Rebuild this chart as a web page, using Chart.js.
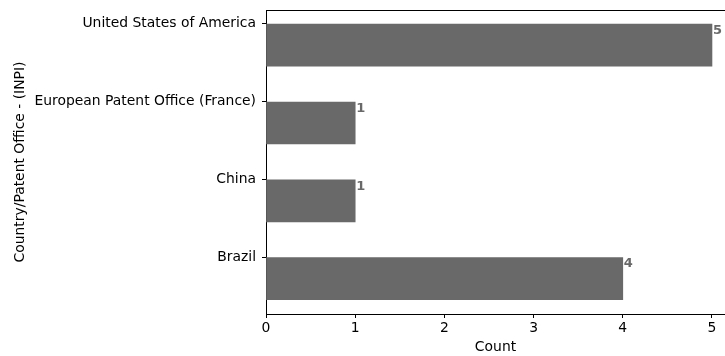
<!DOCTYPE html>
<html>
<head>
<meta charset="utf-8">
<script src="https://cdn.jsdelivr.net/npm/chart.js@4"></script>
<style>
  html, body { margin: 0; padding: 0; background: #ffffff; }
  canvas { display: block; }
</style>
</head>
<body>
<canvas id="chart" width="725" height="356"></canvas>
<script>
// Patent filings per country / patent office
const categories = ['United States of America', 'European Patent Office (France)', 'China', 'Brazil'];
const counts = [5, 1, 1, 4];
const countTicks = [0, 1, 2, 3, 4, 5];
const xTitle = 'Count';
const yTitle = 'Country/Patent Office - (INPI)';

const FONT = 'DejaVu Sans';
const TEXT_SIZE = 13.9;
const BAR_COLOR = '#696969';
const n = categories.length;
const rowOf = i => n - 1 - i;          // first category sits on the top row

// Row range of the labelled axis; bars hang just below their row tick
const rowMin = -0.727, rowMax = 3.178, barDrop = 0.273;

// Top frame line of the plot area
const topSpine = {
  id: 'topSpine',
  afterDraw(chart) {
    const { ctx, chartArea: a } = chart;
    ctx.save();
    ctx.fillStyle = '#000';
    ctx.fillRect(a.left, Math.round(a.top), a.right - a.left, 1);
    ctx.restore();
  }
};

// Bold value labels at the end of each bar
const valueLabels = {
  id: 'valueLabels',
  afterDatasetsDraw(chart) {
    const { ctx } = chart;
    const meta = chart.getDatasetMeta(0);
    ctx.save();
    ctx.font = 'bold 13px "' + FONT + '"';
    ctx.fillStyle = BAR_COLOR;
    ctx.textAlign = 'left';
    ctx.textBaseline = 'alphabetic';
    meta.data.forEach((bar, i) => {
      const top = bar.y - bar.height / 2;
      ctx.fillText(String(counts[i]), bar.x + 1, top + 9.8);
    });
    ctx.restore();
  }
};

new Chart(document.getElementById('chart'), {
  type: 'bar',
  data: {
    datasets: [{
      data: counts.map((v, i) => ({ x: v, y: rowOf(i) })),
      backgroundColor: BAR_COLOR,
      borderWidth: 0,
      barThickness: 42,
      xAxisID: 'x',
      yAxisID: 'y'
    }]
  },
  options: {
    indexAxis: 'y',
    responsive: false,
    animation: false,
    devicePixelRatio: 1,
    layout: { padding: { top: 10, right: 0, bottom: 0, left: 0 } },
    plugins: { legend: { display: false }, tooltip: { enabled: false } },
    scales: {
      x: {
        type: 'linear',
        position: 'bottom',
        min: 0,
        max: 5.146,
        afterBuildTicks: s => { s.ticks = countTicks.map(v => ({ value: v })); },
        afterFit: s => { s.height = 42; s.paddingLeft = 0; s.paddingRight = 0; },
        grid: { drawOnChartArea: false, drawTicks: true, tickLength: 4, tickColor: '#000', tickWidth: 1 },
        border: { display: true, color: '#000', width: 1 },
        ticks: { color: '#000', font: { family: FONT, size: TEXT_SIZE }, padding: 2, maxRotation: 0 },
        title: { display: true, text: xTitle, color: '#000', font: { family: FONT, size: TEXT_SIZE }, padding: { top: 0, bottom: 0 } }
      },
      y: {
        type: 'linear',
        display: false,
        offset: false,
        grid: { offset: false },
        min: rowMin + barDrop,
        max: rowMax + barDrop
      },
      yl: {
        type: 'linear',
        position: 'left',
        offset: false,
        min: rowMin,
        max: rowMax,
        afterBuildTicks: s => { s.ticks = categories.map((c, i) => ({ value: rowOf(i) })); },
        afterFit: s => { s.width = 266; s.paddingTop = 0; s.paddingBottom = 0; },
        grid: { offset: false, drawOnChartArea: false, drawTicks: true, tickLength: 4, tickColor: '#000', tickWidth: 1 },
        border: { display: true, color: '#000', width: 1 },
        ticks: {
          color: '#000',
          font: { family: FONT, size: TEXT_SIZE },
          padding: 6,
          callback: v => categories[n - 1 - v]
        },
        title: { display: true, text: yTitle, color: '#000', font: { family: FONT, size: TEXT_SIZE }, padding: { top: 12, bottom: 0 } }
      }
    }
  },
  plugins: [topSpine, valueLabels]
});
</script>
</body>
</html>
